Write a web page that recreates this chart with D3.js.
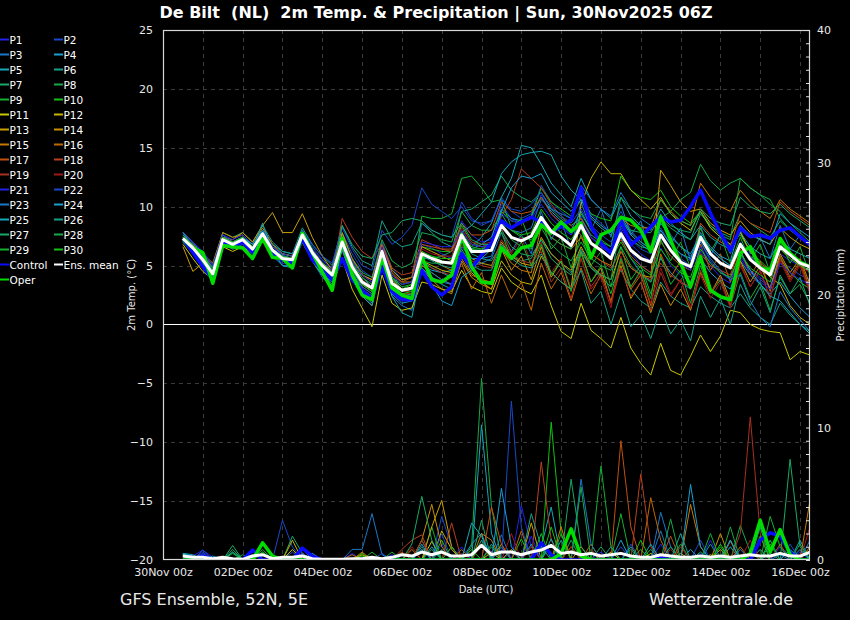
<!DOCTYPE html>
<html><head><meta charset="utf-8">
<script src="https://cdn.jsdelivr.net/npm/d3@7"></script>
<style>body{margin:0;background:#000}svg{display:block}</style></head>
<body><svg id="c" width="850" height="620"></svg>
<script>
// ---------- DATA ----------
const firstHour = 12, stepHours = 6;           // hours after 30Nov 00z (first step 30Nov 12Z, 6-hourly)
const xTickHours = [0,48,96,144,192,240,288,336,384];
const xTickLabels = ["30Nov 00z","02Dec 00z","04Dec 00z","06Dec 00z","08Dec 00z","10Dec 00z","12Dec 00z","14Dec 00z","16Dec 00z"];
const tempTicks = [25,20,15,10,5,0,-5,-10,-15,-20];
const precipTicks = [0,10,20,30,40];
const members = ["P1","P2","P3","P4","P5","P6","P7","P8","P9","P10","P11","P12","P13","P14","P15","P16","P17","P18","P19","P20","P21","P22","P23","P24","P25","P26","P27","P28","P29","P30"];
const memberColors = ["#2222e8","#1a48c8","#1a78c8","#18a0d0","#14a8b8","#16a088","#18a868","#18a848","#14b030","#12c012",
  "#c8c800","#c8b400","#c8a000","#c89000","#c87800","#c06800","#c05010","#b84020","#a83020","#a01818",
  "#2222e8","#1a48c8","#1a78c8","#18a0d0","#14a8b8","#16a088","#18a868","#18a848","#14b030","#12c012"];

const tempMean = [7.3,6.5,5.5,4.3, 7.2,6.8,7.2,6.4, 7.7,6.3,5.6,5.5, 7.6,6.1,5.0,4.2, 7.0,4.9,3.6,3.1, 6.2,3.5,2.9,3.1, 6.0,5.6,5.3,5.2, 7.6,6.2,6.2,6.3, 8.4,7.4,7.1,7.5, 9.1,7.9,7.4,6.7, 8.4,6.9,6.3,5.6, 7.7,6.3,5.6,5.3, 7.6,6.3,5.3,4.9, 7.4,6.0,5.2,4.8, 6.8,5.5,4.8,4.2, 6.6,5.9,5.2,4.9];
const tempControl = [7.3,6.1,4.9,3.8, 7.0,6.7,7.0,6.1, 7.4,5.9,5.5,5.2, 7.3,5.5,4.6,3.8, 5.6,3.8,2.9,2.2, 4.9,2.8,2.1,2.1, 4.6,3.2,2.5,3.2, 6.0,4.8,5.9,6.9, 8.8,8.2,8.7,9.1, 8.7,7.9,8.3,8.9, 11.6,8.3,6.9,6.05, 8.85,6.75,7.45,8.3, 9.15,8.7,8.85,10.0, 11.4,9.45,7.75,6.3, 8.2,7.45,7.6,7.3, 8.0,8.2,7.45,6.75];
const tempOper = [7.3,6.5,6.1,3.5, 6.7,6.6,6.5,5.6, 7.3,5.7,5.6,4.8, 7.75,6.1,4.45,2.9, 7.3,4.2,2.5,2.1, 5.75,3.1,2.5,2.2, 5.75,3.8,3.6,4.2, 7.6,4.9,3.6,3.5, 6.5,5.6,6.5,6.7, 8.45,7.75,8.7,7.9, 8.6,5.65,7.6,8.0, 9.1,8.85,8.0,6.2, 9.15,7.15,5.2,3.2, 5.75,2.9,2.35,2.1, 6.05,6.6,4.8,4.6, 7.3,6.05,5.3,4.9];

const T_P1 = [7.6,6.8,5.2,4.0, 7.0,6.5,7.0,6.0, 7.4,6.0,5.2,5.0, 7.2,5.6,4.4,3.8, 6.2,4.2,3.0,2.4, 5.4,3.0,2.2,2.6, 6.8,6.5,6.0,5.6, 8.8,7.6,7.0,7.2, 10.2,9.0,8.6,9.0, 11.0,9.4,8.5,7.6, 9.2,7.4,6.8,6.0, 8.0,6.2,5.0,4.4, 6.5,5.0,4.2,3.6, 6.2,5.0,4.0,3.5, 5.8,4.6,4.0,3.2, 6.0,5.4,5.0,4.6];
const T_P2 = [7.8,7.0,5.8,4.6, 7.6,7.0,7.4,6.6, 8.0,6.6,5.9,5.6, 8.0,6.6,5.5,4.8, 7.8,6.0,4.6,4.0, 7.0,4.8,3.8,4.0, 8.6,8.0,7.6,7.4, 10.4,9.0,8.4,8.8, 10.8,9.6,9.0,9.4, 11.8,10.4,9.6,9.0, 11.0,9.4,8.6,7.8, 9.6,8.0,7.0,6.4, 8.2,6.8,5.6,5.0, 7.0,5.4,4.4,4.0, 6.0,4.6,3.8,3.2, 5.4,4.8,4.2,3.8];
const T_P3 = [7.0,6.2,5.0,3.8, 6.8,6.4,6.8,6.0, 7.2,5.8,5.0,5.0, 7.0,5.4,4.0,3.2, 6.4,4.4,3.0,2.2, 5.0,2.4,1.6,1.2, 4.6,4.0,3.6,3.4, 6.2,5.0,5.2,5.6, 7.8,6.2,7.6,6.0, 9.6,7.2,8.8,6.4, 10.4,8.0,9.8,7.4, 10.2,7.6,8.8,6.0, 9.4,6.8,8.2,5.4, 8.4,5.8,7.6,6.0, 8.0,6.0,7.4,5.6, 8.4,6.4,7.6,6.6];
const T_P4 = [7.4,6.2,5.3,4.1, 7.4,7.0,7.4,6.8, 8.0,6.8,6.2,6.0, 7.8,6.2,4.8,3.8, 6.6,4.4,2.8,2.2, 5.6,3.2,2.4,2.6, 5.0,4.6,4.4,4.6, 7.0,6.4,6.8,7.4, 9.8,9.0,8.8,9.2, 10.8,9.6,8.8,8.0, 9.6,8.0,7.0,6.2, 7.4,5.6,4.4,3.6, 5.6,4.4,3.6,3.0, 5.6,4.4,3.6,3.0, 5.4,4.2,3.4,2.6, 3.6,2.4,1.4,0.6];
const T_P5 = [7.8,7.0,6.0,4.8, 7.2,6.6,7.0,6.2, 7.8,6.6,6.0,5.8, 7.6,6.0,5.0,4.4, 7.2,5.2,4.0,3.2, 6.4,4.0,3.0,2.8, 5.4,4.8,4.4,4.0, 7.0,6.6,7.4,8.6, 10.8,12.4,15.2,15.0, 13.6,12.0,11.0,10.0, 12.4,10.6,9.8,9.0, 10.8,9.2,8.4,8.0, 9.8,8.6,7.8,7.2, 8.4,7.4,6.8,6.4, 7.8,6.6,6.0,5.6, 7.2,6.4,6.0,5.6];
const T_P6 = [7.0,6.0,5.0,4.0, 7.8,7.4,7.8,7.0, 8.4,7.0,6.2,6.0, 8.2,6.8,5.8,5.0, 8.4,6.6,5.4,5.0, 8.8,7.2,6.6,6.8, 8.6,7.8,7.0,6.6, 7.4,6.0,5.6,5.4, 6.8,5.8,5.4,5.6, 7.2,6.0,5.2,4.4, 6.4,4.8,4.0,3.2, 4.6,3.0,2.0,1.4, 3.6,2.4,1.8,1.4, 3.2,2.4,1.8,1.4, 2.6,1.4,0.6,0.0, 1.8,0.8,0.0,-0.6];
const T_P7 = [7.2,6.6,5.6,4.4, 7.0,6.6,7.0,6.2, 7.4,6.0,5.4,5.2, 7.4,5.8,4.6,3.8, 6.6,4.4,3.0,2.4, 5.8,3.2,2.4,2.4, 5.6,5.6,5.8,6.2, 9.6,9.8,10.4,11.0, 12.6,11.4,10.8,10.4, 11.2,9.8,9.0,8.4, 9.0,7.6,7.0,6.6, 8.4,7.2,6.6,6.4, 9.0,8.2,7.6,7.2, 9.4,8.4,7.8,7.4, 9.4,8.6,8.0,7.4, 8.8,8.0,7.4,6.8];
const T_P8 = [7.4,6.6,5.6,4.6, 7.0,6.4,6.6,5.8, 7.4,6.2,5.6,5.4, 7.2,6.0,5.2,4.6, 7.6,5.6,4.4,4.0, 7.2,5.4,4.8,5.2, 7.8,7.6,7.2,7.0, 9.6,8.4,8.0,8.0, 9.4,8.0,7.4,7.2, 8.2,6.8,6.0,5.4, 7.0,5.6,5.0,4.6, 6.6,5.0,4.2,3.6, 9.0,9.6,10.6,11.2, 13.6,12.2,11.4,12.0, 12.4,11.6,11.0,10.2, 9.6,8.6,7.8,7.0];
const T_P9 = [7.0,6.4,5.4,4.2, 7.4,7.0,7.2,6.4, 7.8,6.4,5.6,5.4, 7.6,6.2,5.2,4.4, 7.0,4.8,3.4,2.8, 6.4,4.0,3.4,3.6, 9.2,9.0,9.0,9.4, 12.4,12.6,11.6,10.4, 10.6,8.2,9.0,6.8, 9.0,6.4,7.4,4.8, 7.6,5.0,6.2,3.2, 6.6,3.8,5.0,2.6, 5.8,3.4,4.6,1.8, 5.0,2.6,3.8,1.6, 4.4,2.2,3.6,1.2, 4.0,2.6,3.4,1.8];
const T_P10 = [7.2,6.6,5.8,4.6, 7.2,6.8,7.2,6.4, 7.6,6.4,5.8,5.6, 7.8,6.2,5.0,4.2, 7.0,5.0,3.6,3.0, 6.0,3.8,3.0,3.4, 6.6,6.4,6.2,6.2, 8.4,7.0,6.6,6.8, 9.6,8.8,8.6,9.2, 11.6,10.4,9.8,9.2, 10.6,9.4,9.0,8.8, 12.6,11.4,10.8,10.6, 11.4,10.0,9.2,8.6, 9.6,8.2,7.4,6.8, 7.6,6.2,5.4,4.6, 5.6,4.4,3.6,3.0];
const T_P11 = [6.8,5.6,4.5,3.8, 6.6,6.2,6.6,6.0, 7.2,6.0,5.4,5.2, 7.0,5.4,4.2,3.2, 5.6,3.0,1.4,-0.2, 4.2,1.8,1.2,1.4, 3.6,3.4,3.0,2.8, 4.6,3.2,2.8,2.6, 4.8,3.6,3.0,2.6, 4.2,1.6,-0.6,-1.2, 1.8,-0.5,-1.2,-2.0, 0.6,-2.0,-3.3,-4.3, -1.6,-3.9,-4.3,-2.7, -0.9,-2.3,-1.0,1.2, 1.0,0.0,-0.4,-0.6, -0.7,-3.0,-2.3,-2.6];
const T_P12 = [7.0,6.2,5.4,4.4, 7.0,6.6,7.0,6.2, 7.6,6.2,5.4,5.0, 7.4,5.8,4.6,3.6, 6.4,4.0,2.4,1.6, 5.4,2.8,2.0,2.2, 5.4,5.0,4.6,4.4, 6.0,4.4,3.6,3.0, 5.4,4.2,3.6,3.4, 5.8,4.4,3.6,3.0, 10.2,12.4,13.8,12.8, 12.8,11.4,10.6,9.8, 10.8,9.4,8.6,8.0, 9.6,8.2,7.4,6.8, 7.8,6.2,5.0,4.0, 3.4,1.6,0.6,0.0];
const T_P13 = [6.6,4.5,5.2,4.4, 7.4,7.2,7.8,7.0, 8.4,9.5,7.8,7.8, 9.4,7.4,5.8,4.6, 7.8,5.6,4.2,3.8, 6.8,4.6,3.8,4.0, 6.6,6.2,5.8,5.4, 7.2,5.6,5.2,5.0, 7.0,5.8,5.2,5.0, 7.4,6.0,5.2,4.6, 6.6,5.0,4.2,3.8, 6.2,4.8,4.2,4.0, 13.1,11.8,10.4,9.6, 9.8,8.6,8.0,7.6, 8.8,7.8,7.2,6.8, 8.2,7.4,6.8,6.4];
const T_P14 = [7.4,6.8,6.0,5.2, 7.8,7.4,7.6,6.8, 8.2,6.8,6.0,5.8, 7.8,6.4,5.2,4.6, 7.4,5.4,4.2,3.8, 6.4,3.8,3.0,3.0, 4.6,3.8,3.0,2.6, 5.4,4.0,3.4,3.0, 6.4,4.6,5.8,3.8, 6.6,4.0,5.4,3.0, 6.2,3.6,4.8,1.8, 5.0,2.2,3.6,1.0, 3.4,1.6,3.0,1.2, 4.4,2.6,4.2,2.0, 5.4,3.6,5.0,3.0, 6.0,4.4,5.6,3.4];
const T_P15 = [7.6,6.6,5.4,4.2, 7.0,6.6,7.0,6.2, 7.4,6.2,5.6,5.4, 7.4,6.2,5.2,4.4, 7.4,5.4,4.2,3.6, 6.6,4.4,3.6,3.6, 6.2,5.6,5.0,4.6, 5.6,4.2,3.8,3.6, 6.4,5.2,4.6,4.4, 8.4,7.4,6.8,6.4, 7.4,6.0,5.4,5.0, 9.0,8.4,8.2,8.2, 10.6,9.6,8.8,8.4, 12.0,10.8,10.0,9.6, 11.4,10.4,9.6,9.0, 10.6,9.8,9.2,8.6];
const T_P16 = [7.2,6.4,5.6,4.4, 7.2,6.8,7.2,6.6, 7.8,6.6,6.0,5.8, 7.6,6.0,4.8,3.8, 6.6,4.6,3.4,2.8, 5.8,3.4,2.6,2.6, 5.0,4.4,3.8,3.4, 5.2,3.0,4.4,1.8, 4.2,2.2,3.6,1.2, 5.2,3.0,4.4,2.0, 4.8,2.6,4.2,2.0, 5.4,3.0,4.2,1.6, 6.0,4.0,5.4,3.0, 6.8,4.6,6.0,3.6, 6.4,4.2,5.4,2.8, 5.8,4.0,5.4,3.0];
const T_P17 = [7.0,6.4,5.4,4.4, 7.4,7.0,7.4,6.6, 7.6,6.2,5.4,5.2, 7.4,5.8,4.6,3.8, 7.0,4.8,3.4,3.0, 6.4,4.2,3.6,4.0, 6.8,6.6,6.4,6.4, 8.6,7.6,7.6,8.0, 10.4,9.6,9.4,9.6, 10.8,9.4,8.6,7.8, 9.0,7.4,6.6,6.0, 7.2,5.8,5.0,4.4, 7.0,5.8,5.0,4.6, 8.6,7.6,7.0,6.6, 9.4,8.6,8.2,7.8, 10.4,9.6,9.0,8.4];
const T_P18 = [7.4,6.6,5.6,4.2, 7.0,6.6,7.0,6.2, 7.8,6.4,5.8,5.6, 7.6,6.0,4.8,4.0, 9.0,7.4,6.2,5.6, 6.8,4.8,4.2,4.4, 7.2,6.8,6.4,6.2, 8.0,6.8,6.6,6.8, 9.2,10.6,13.2,12.4, 11.6,10.2,9.2,8.4, 7.6,6.0,5.4,4.8, 6.2,4.8,4.2,3.8, 5.2,4.2,3.6,3.2, 6.0,5.0,4.6,4.2, 6.6,5.8,5.2,4.6, 6.4,5.6,5.0,4.4];
const T_P19 = [7.8,7.0,6.0,4.8, 7.6,7.0,7.2,6.4, 7.6,6.2,5.6,5.4, 7.4,6.0,5.0,4.4, 7.2,5.0,3.8,3.2, 6.2,3.6,2.8,2.8, 5.2,4.8,4.4,4.2, 6.8,5.4,5.0,4.8, 7.2,6.0,5.4,5.2, 6.2,3.6,4.8,2.2, 5.6,3.2,4.4,1.8, 4.8,2.4,3.6,1.2, 4.4,2.4,3.8,1.4, 4.6,2.6,4.0,1.6, 5.2,3.2,4.6,2.2, 5.6,3.8,5.2,2.8];
const T_P20 = [7.2,6.4,5.2,4.0, 7.2,6.8,7.2,6.4, 7.6,6.2,5.4,5.2, 7.6,6.0,4.8,3.8, 6.8,4.6,3.2,2.6, 6.0,3.6,2.8,3.0, 6.4,6.0,5.8,5.8, 8.2,7.0,6.8,7.0, 8.2,6.0,7.4,5.2, 7.0,4.4,5.6,3.0, 5.6,3.0,4.0,1.4, 5.8,3.2,4.4,1.8, 4.8,2.6,3.8,1.4, 4.2,2.2,3.6,1.4, 5.0,3.2,4.6,2.2, 5.4,3.6,5.0,2.6];
const T_P21 = [7.6,7.0,6.2,5.0, 7.6,7.2,7.6,6.8, 8.0,6.6,5.8,5.6, 7.8,6.4,5.4,4.6, 7.4,5.4,4.2,3.6, 6.6,4.2,3.4,3.6, 7.0,6.8,6.6,6.6, 8.0,6.8,6.6,6.8, 9.4,8.8,8.6,9.0, 10.2,9.0,8.2,7.6, 8.8,7.4,6.6,6.0, 8.2,6.8,6.0,5.4, 7.6,6.2,5.2,4.6, 6.6,5.2,4.4,3.8, 5.6,4.4,3.6,3.0, 5.2,4.4,3.8,3.4];
const T_P22 = [7.8,7.0,6.0,5.0, 7.6,7.0,7.4,6.6, 7.8,6.6,6.0,5.8, 8.0,6.8,5.8,5.2, 8.2,6.4,5.0,4.6, 8.0,6.8,7.4,8.4, 11.6,10.2,9.6,9.0, 10.0,8.8,8.6,8.8, 10.6,9.8,9.6,10.2, 11.2,10.0,9.2,8.6, 9.8,8.4,7.6,7.0, 8.6,7.2,6.4,6.0, 8.0,6.8,6.0,5.4, 7.6,6.4,5.6,5.0, 7.0,5.8,5.0,4.4, 6.6,5.8,5.2,4.8];
const T_P23 = [7.0,6.2,5.2,4.0, 7.2,6.8,7.2,6.4, 7.4,6.0,5.4,5.2, 7.2,5.6,4.4,3.6, 6.8,4.6,3.2,2.6, 5.8,3.2,2.4,2.4, 5.2,4.4,3.8,3.4, 6.6,5.6,5.6,5.8, 8.6,8.0,7.8,8.2, 10.6,9.8,9.4,9.0, 11.8,10.6,9.8,9.2, 11.2,9.8,9.0,8.4, 9.2,7.6,6.6,5.8, 7.0,5.6,4.6,3.8, 4.2,2.0,0.6,-0.2, 2.8,1.4,0.4,-0.6];
const T_P24 = [7.8,6.6,5.4,4.2, 7.0,6.8,7.4,6.8, 8.0,6.2,5.6,5.6, 7.4,5.6,4.2,3.6, 6.4,3.8,2.4,1.6, 5.2,2.6,1.8,2.0, 4.8,3.4,2.0,1.6, 4.0,4.6,5.6,6.4, 9.6,11.6,12.6,12.4, 12.8,11.2,10.4,9.6, 10.6,9.2,8.4,7.8, 9.0,7.6,6.8,6.2, 8.0,6.8,6.0,5.6, 7.8,6.6,5.8,5.4, 8.4,7.6,7.2,6.8, 9.4,8.6,8.0,7.4];
const T_P25 = [7.4,6.4,5.0,3.6, 7.0,6.6,7.0,6.4, 8.6,6.2,5.0,4.8, 7.2,5.4,4.2,3.4, 6.6,4.2,2.6,1.8, 5.6,2.4,1.0,0.6, 4.8,4.0,3.4,3.0, 7.8,8.4,9.4,10.4, 12.8,13.8,14.4,14.6, 14.7,14.4,12.6,11.4, 10.6,9.0,8.2,7.6, 9.2,7.8,7.0,6.4, 8.6,7.4,6.6,6.0, 7.6,6.4,5.6,5.0, 6.2,4.6,3.4,2.4, 2.0,1.0,0.0,-0.8];
const T_P26 = [7.2,6.6,5.8,4.8, 7.4,7.0,7.4,6.6, 7.8,6.4,5.6,5.4, 7.8,6.2,5.0,4.2, 7.0,4.8,3.4,2.8, 6.0,3.6,2.8,3.0, 5.8,5.4,5.0,4.8, 6.4,5.0,4.6,4.6, 6.8,5.6,5.0,4.8, 6.0,4.4,3.6,3.0, 4.6,1.8,2.8,0.0, 2.6,-0.2,0.8,-1.2, 1.4,-0.8,0.4,-1.4, 2.4,0.6,2.2,0.0, 3.4,1.6,3.2,1.0, 4.2,2.6,4.0,1.6];
const T_P27 = [7.6,6.8,5.8,4.6, 7.2,6.8,7.2,6.4, 7.6,6.4,5.8,5.6, 7.6,6.0,4.8,4.0, 8.4,6.8,5.8,5.6, 7.6,7.8,8.8,9.0, 8.8,8.0,7.6,7.4, 8.6,7.2,6.8,6.8, 8.0,6.6,6.0,5.8, 7.2,5.6,4.8,4.2, 6.2,4.8,4.2,3.8, 8.6,8.0,7.8,7.8, 9.2,8.4,8.0,7.8, 9.8,9.0,8.6,8.4, 10.8,10.0,9.6,9.4, 10.2,9.4,8.8,8.2];
const T_P28 = [7.0,6.2,5.2,4.2, 7.2,6.8,7.0,6.2, 7.6,6.2,5.6,5.4, 7.6,6.2,5.2,4.4, 6.4,4.2,2.8,2.2, 5.4,2.8,2.0,2.2, 5.4,5.2,5.2,5.4, 7.4,6.4,6.4,6.8, 8.4,7.2,6.6,6.4, 8.6,7.4,6.8,6.4, 9.4,8.0,7.2,6.6, 10.8,9.8,9.2,9.0, 10.6,9.4,8.8,8.4, 9.6,8.4,7.6,7.2, 12.4,11.6,11.0,10.6, 9.0,8.0,7.4,6.8];
const T_P29 = [7.4,6.6,5.6,4.4, 7.2,6.8,7.2,6.4, 7.6,6.4,5.8,5.6, 7.6,6.2,5.2,4.4, 7.2,5.2,4.0,3.4, 6.2,4.0,3.2,3.4, 6.2,5.8,5.4,5.2, 7.8,6.6,6.4,6.6, 7.8,5.6,7.0,5.0, 6.8,4.2,5.4,2.8, 6.0,3.6,5.0,2.6, 5.6,3.2,4.6,2.2, 7.2,5.4,7.0,4.8, 8.2,6.2,7.6,5.2, 7.4,5.4,6.8,4.4, 7.0,5.2,6.6,4.2];
const T_P30 = [7.2,6.4,5.4,4.2, 7.4,7.0,7.4,6.6, 7.8,6.4,5.6,5.4, 7.4,5.8,4.8,4.0, 6.8,4.6,3.4,2.8, 5.8,3.4,2.6,2.8, 6.0,5.8,5.6,5.6, 7.6,6.4,6.2,6.4, 8.8,8.0,7.6,7.8, 9.8,8.6,7.8,7.2, 8.4,7.0,6.2,5.6, 7.0,5.6,4.8,4.2, 6.4,5.2,4.4,4.0, 6.4,5.2,4.4,4.0, 6.0,4.8,4.2,3.6, 6.4,5.6,5.0,4.6];

const precipMean = [.3,.2,.2,.1,.2,.1,.05,.3,.4,.1,.2,.2,.3,.1,.05,.05, .05,.1,.1,.2,.1,.2,.4,.3,.6,.4,.6,.3,.3,.4,1.1,.4, .6,.6,.4,.6,.75,1.1,.5,.6,.4,.5,.3,.4,.5,.3,.2,.2, .4,.3,.2,.2,.3,.2,.3,.2,.3,.4,.3,.3,.5,.3,.3,.6];
const precipControl = [0,0,.3,0,0,0,0,.75,0,0,0,0,.9,.3,0,0, 0,0,0,0,0,0,0,0,0,0,0,0,0,0,0,0, 0,0,0,0,1.3,.4,0,0,0,0,0,0,0,0,0,0, .2,0,0,0,0,0,0,0,0,0,1.5,2.05,1.8,.6,0,0];
const precipOper = [0,0,0,0,0,0,0,0,1.3,.3,0,0,0,0,0,0, 0,0,0,0,0,0,0,0,0,0,0,0,0,0,0,0, 0,0,0,0,0,0,.5,2.35,.3,0,0,0,0,0,0,0, 0,0,0,0,0,0,0,0,0,.5,3,.6,2.3,.4,0,0];

const R_P1 = [.4,.3,.75,.2,0,0,0,0,0,0,0,0,0,0,0,0, 0,.5,0,0,0,0,0,0,0,0,1.2,0,0,0,1.5,.6, 0,0,4.1,1,0,0,0,0,0,0,0,0,0,0,0,0, 1.2,0,0,0,.5,0,0,0,0,0,0,0,0,0,.6,0];
const R_P2 = [.3,0,.6,0,0,0,0,0,0,0,3,1,0,0,0,0, 0,0,0,0,0,0,0,0,0,0,3.3,1,0,0,0,0, 0,.6,0,0,0,0,0,0,0,0,0,0,1,0,0,0, 0,0,0,0,0,0,0,0,0,0,.8,0,0,0,0,0];
const R_P3 = [.5,.3,0,0,0,0,0,0,0,0,0,0,0,0,0,0, 0,.8,.8,3.5,.4,0,0,0,0,0,0,0,0,0,0,0, 1.9,0,0,0,0,0,0,0,0,.5,0,0,0,0,0,0, 3.6,1,0,0,0,0,0,0,0,0,0,0,.4,0,0,0];
const R_P4 = [.4,0,0,0,0,0,0,0,0,0,0,0,.5,0,0,0, 0,0,0,0,0,0,0,0,0,0,0,0,0,1.2,2,0, 0,0,0,1.2,0,0,0,0,0,0,0,0,0,1,0,0, 0,0,0,.8,0,0,0,1.5,0,0,0,0,0,.8,0,0];
const R_P5 = [.5,.4,0,0,0,0,0,0,0,0,0,0,.9,0,0,0, 0,0,0,0,0,0,0,0,0,0,0,0,0,0,10.2,2, 0,0,0,0,1,4,0,0,0,0,0,.6,0,0,0,0, 0,0,0,0,0,0,0,1,0,0,0,0,0,0,1.5,0];
const R_P6 = [.3,0,0,0,0,.6,0,0,0,0,0,0,0,0,0,0, 0,0,0,0,0,0,0,0,1,0,0,0,0,0,0,1.2, 0,0,0,0,0,0,1.5,0,0,0,0,0,0,.8,0,0, 0,0,0,0,0,1.2,0,0,0,0,0,.5,0,0,0,0];
const R_P7 = [.3,0,0,0,0,1.1,0,0,0,0,0,1.8,.5,0,0,0, 0,0,0,0,0,0,0,0,.8,0,0,0,0,0,3,0, 0,0,0,0,0,1.2,0,0,0,0,1,0,0,0,0,0, 0,0,0,0,.6,0,0,0,0,0,0,0,0,7.6,1,0];
const R_P8 = [.4,0,0,0,0,0,0,0,.6,0,0,0,0,0,0,0, 0,0,.4,0,0,0,0,0,1.5,0,0,0,0,1,13.7,4, 0,0,0,0,0,0,0,1.5,0,0,0,0,0,0,0,.8, 0,0,0,0,0,0,0,0,2.6,.6,0,0,0,0,0,0];
const R_P9 = [.3,0,0,0,0,0,0,0,.8,0,0,0,0,0,0,0, 0,0,0,.6,0,0,0,0,0,2.5,0,0,0,0,0,1, 0,0,0,0,0,0,2,0,0,0,7.1,1,0,0,0,0, 0,0,1.2,0,0,0,0,0,0,0,.8,0,0,0,0,0];
const R_P10 = [.2,0,0,0,0,0,0,0,.6,0,0,0,0,0,0,0, 0,0,.5,0,0,0,0,0,0,0,1.5,0,0,0,0,0, 0,0,1.6,0,0,10.4,2,0,0,0,0,0,0,0,.8,0, 0,0,0,0,0,0,1,0,0,0,0,1.2,0,0,0,0];
const R_P11 = [.3,0,0,0,0,0,0,0,0,0,0,.8,0,0,0,0, 0,0,0,0,0,0,0,0,0,1.4,0,0,0,0,0,.6, 0,0,0,0,0,0,0,1,0,0,0,0,0,0,0,.5, 0,0,0,0,0,.4,0,0,0,0,0,0,0,0,0,0];
const R_P12 = [.3,0,0,0,0,0,0,0,0,0,0,1.5,0,0,0,0, 0,0,0,0,0,0,0,0,0,0,2.2,.8,0,0,0,0, 0,.8,0,0,0,0,0,0,0,.6,0,0,0,0,0,0, 0,0,.5,0,0,0,0,0,0,0,0,0,0,0,0,0];
const R_P13 = [.4,0,0,0,0,0,0,0,0,0,0,0,.5,0,0,0, 0,0,0,0,0,0,0,0,0,2.5,4.5,1,0,0,0,0, 0,0,0,2.8,0,0,0,0,0,0,0,.6,0,0,0,0, 0,0,0,0,0,0,.8,0,0,0,0,0,0,0,0,0];
const R_P14 = [.3,0,0,0,0,0,0,0,0,0,0,0,0,0,0,0, 0,0,.4,0,0,0,0,0,1.5,4.2,1,0,0,0,0,0, 1.2,0,0,0,0,0,0,0,1,0,0,0,0,0,0,0, 0,0,0,0,0,0,2,0,0,0,0,0,0,0,0,1];
const R_P15 = [.4,0,0,0,0,0,0,0,0,0,0,0,0,0,0,0, 0,0,.6,0,0,0,0,.8,0,0,0,0,0,0,2,1.5, 0,0,0,0,0,0,2.5,0,0,0,0,0,0,0,0,0, 0,0,0,4.2,1,0,0,0,0,0,0,0,0,0,0,4.5];
const R_P16 = [.3,0,0,0,0,0,0,0,0,0,0,0,0,0,0,0, 0,.4,0,0,0,0,0,0,0,0,0,0,.8,0,0,0, 0,0,2.2,0,0,0,0,0,0,1.2,0,0,0,0,0,4.7, 1.5,0,0,0,0,0,0,0,1,0,0,0,0,0,0,0];
const R_P17 = [.4,0,0,0,0,0,0,0,0,0,0,0,0,0,0,0, 0,0,0,0,0,0,.6,0,0,0,0,1,0,0,0,4, 1.2,0,0,0,0,0,0,0,0,0,0,0,9,2.5,0,0, 0,1.8,0,0,0,0,0,0,0,0,0,0,1.2,0,0,0];
const R_P18 = [.3,0,0,0,0,0,0,0,0,0,0,0,0,0,0,0, 0,0,0,0,0,0,.8,1.5,1.9,0,0,2.8,0,0,0,0, 0,0,0,0,7.4,1.5,0,0,0,0,0,0,0,0,6.5,1, 0,0,0,0,0,0,0,1.4,0,0,0,0,0,0,0,0];
const R_P19 = [.3,0,0,0,0,0,0,0,0,0,0,0,0,0,0,0, 0,0,0,0,0,0,0,0,1.5,0,0,0,0,0,1.2,0, 0,0,0,1,0,0,0,0,0,.8,0,0,0,0,0,0, 0,0,1,0,0,0,0,0,2,10.8,2,0,0,0,0,0];
const R_P20 = [.2,0,0,0,0,0,0,0,0,0,0,0,0,0,0,0, 0,0,0,0,0,0,0,1,0,0,0,0,.5,0,0,0, 0,2,0,0,0,0,0,1,0,0,0,0,0,0,0,0, 0,.8,0,0,0,0,0,0,0,1.5,0,0,0,0,0,2.5];
const R_P21 = [.3,0,.5,0,0,0,0,0,0,0,0,0,.5,0,0,0, 0,0,0,0,0,.4,0,0,0,0,0,0,1,0,0,0, 0,0,0,1.8,0,0,0,0,0,0,.6,0,0,0,0,0, 0,0,0,0,0,1.5,0,0,0,0,0,0,1,0,0,0];
const R_P22 = [.4,0,.75,0,0,0,0,0,0,0,0,.6,0,0,0,0, 0,0,0,0,.5,0,0,0,0,0,2,0,0,0,0,0, 0,12,2.5,0,0,0,0,0,0,0,0,0,0,1.2,0,0, 0,0,0,0,1.5,0,0,0,0,0,0,0,0,1.2,0,0];
const R_P23 = [.4,0,0,0,0,0,0,0,0,0,0,0,.4,0,0,0, 0,0,0,0,0,0,0,0,.8,0,0,0,0,0,0,0, 1,0,0,0,0,0,0,0,6.1,1.2,0,0,0,0,0,0, 2.2,0,0,0,0,0,0,0,.8,0,0,0,0,0,0,1.5];
const R_P24 = [.5,0,0,.3,0,0,0,0,0,0,0,0,0,.5,0,0, 0,0,0,0,0,0,0,0,1.2,0,0,0,0,0,0,0, 5.4,1,0,0,0,0,0,0,0,0,0,0,1.5,0,0,0, 0,0,0,5.7,1,0,0,0,0,0,0,0,0,0,.8,0];
const R_P25 = [.5,0,.4,0,0,0,0,0,0,0,0,0,0,0,0,0, 0,0,0,0,0,0,0,0,0,1,0,0,0,2.8,1.8,0, 0,0,0,0,0,1.6,0,0,0,0,0,0,0,0,0,1.2, 0,0,0,0,0,0,0,1.5,0,0,0,0,0,.8,0,0];
const R_P26 = [.3,0,0,0,0,.6,0,0,0,0,0,0,0,0,0,0, 0,0,0,0,0,0,0,0,0,0,.8,0,0,0,0,0, 0,0,0,3.5,1,0,0,0,0,0,0,1,0,0,0,0, 0,0,2,0,0,0,0,0,0,0,2.5,0,0,0,0,0];
const R_P27 = [.3,0,0,0,0,.8,0,0,0,0,0,0,0,0,0,0, 0,0,0,0,0,0,0,1.2,4.8,1.5,0,0,0,0,0,0, 0,0,0,0,0,0,0,6.1,1,0,0,0,0,0,0,0, 0,1,0,0,0,0,0,0,0,0,0,1.5,0,0,0,0];
const R_P28 = [.3,0,0,0,0,0,.4,0,0,0,0,0,0,0,0,0, 0,0,0,0,0,0,0,0,0,.8,0,0,0,0,1.5,0, 0,0,0,0,0,0,0,0,5.5,0,0,0,0,0,0,0, 0,3.1,0,0,0,0,0,2.5,0,0,0,0,0,0,1.2,0];
const R_P29 = [.4,0,0,0,0,.5,0,0,0,0,0,0,0,0,0,0, 0,0,0,0,0,.6,0,0,0,0,0,1,0,0,0,0, 0,0,0,0,2,0,0,0,0,0,0,0,3.5,0,0,0, 0,0,0,0,0,2,0,0,0,0,0,3.3,1,0,0,0];
const R_P30 = [.3,0,0,0,0,0,0,.4,0,0,0,0,0,0,0,0, 0,0,.3,0,0,0,0,0,0,0,0,0,0,.8,0,0, 0,0,0,0,0,2.5,0,0,0,0,0,0,0,0,1.5,0, 0,0,0,0,0,0,1.2,0,0,0,1.8,0,0,0,0,0];

const tempMembers = [T_P1,T_P2,T_P3,T_P4,T_P5,T_P6,T_P7,T_P8,T_P9,T_P10,T_P11,T_P12,T_P13,T_P14,T_P15,T_P16,T_P17,T_P18,T_P19,T_P20,T_P21,T_P22,T_P23,T_P24,T_P25,T_P26,T_P27,T_P28,T_P29,T_P30];
const precipMembers = [R_P1,R_P2,R_P3,R_P4,R_P5,R_P6,R_P7,R_P8,R_P9,R_P10,R_P11,R_P12,R_P13,R_P14,R_P15,R_P16,R_P17,R_P18,R_P19,R_P20,R_P21,R_P22,R_P23,R_P24,R_P25,R_P26,R_P27,R_P28,R_P29,R_P30];

// ---------- CHART ----------
const FONT = "'DejaVu Sans', Verdana, sans-serif";
const svg = d3.select("#c").style("font-family", FONT);
svg.append("rect").attr("width",850).attr("height",620).attr("fill","#000");
const L = 163, R = 810, T = 30, B = 560;
const x = d3.scaleLinear().domain([0, 390]).range([L, R]);
const yT = d3.scaleLinear().domain([-20, 25]).range([B, T]);
const yP = d3.scaleLinear().domain([0, 40]).range([B, T]);
const hourAt = i => firstHour + stepHours * i;

svg.append("clipPath").attr("id","clip").append("rect").attr("x",L).attr("y",T).attr("width",R-L).attr("height",B-T);

// grid
const grid = svg.append("g").attr("stroke","#3a3a3a").attr("stroke-width",1).attr("stroke-dasharray","4,4");
grid.selectAll("line.v").data(d3.range(24, 385, 24)).join("line")
  .attr("x1", d => Math.round(x(d)) + 0.5).attr("x2", d => Math.round(x(d)) + 0.5).attr("y1", T).attr("y2", B);
grid.selectAll("line.h").data(tempTicks.filter(t => t !== 0 && t !== 25 && t !== -20)).join("line")
  .attr("y1", d => Math.round(yT(d)) + 0.5).attr("y2", d => Math.round(yT(d)) + 0.5).attr("x1", L).attr("x2", R);

// zero line
svg.append("line").attr("x1",L).attr("x2",R).attr("y1",Math.round(yT(0))+0.5).attr("y2",Math.round(yT(0))+0.5)
  .attr("stroke","#ffffff").attr("stroke-width",1.2);

const plot = svg.append("g").attr("clip-path","url(#clip)");
const lineT = d3.line().x((d,i) => x(hourAt(i))).y(d => yT(d));
const lineP = d3.line().x((d,i) => x(hourAt(i))).y(d => yP(d));

tempMembers.forEach((s, k) => {
  plot.append("path").attr("d", lineT(s)).attr("fill","none").attr("stroke", memberColors[k]).attr("stroke-width",1);
});
precipMembers.forEach((s, k) => {
  plot.append("path").attr("d", lineP(s)).attr("fill","none").attr("stroke", memberColors[k]).attr("stroke-width",1);
});
const thick = [[tempControl, precipControl, "#0a0aff", 3.5],[tempOper, precipOper, "#00dd00", 3.5],[tempMean, precipMean, "#ffffff", 3]];
thick.forEach(([t, p, c, w]) => {
  plot.append("path").attr("d", lineT(t)).attr("fill","none").attr("stroke", c).attr("stroke-width", w).attr("stroke-linejoin","round");
  plot.append("path").attr("d", lineP(p)).attr("fill","none").attr("stroke", c).attr("stroke-width", w).attr("stroke-linejoin","round");
});

// frame
svg.append("rect").attr("x",L+0.5).attr("y",T+0.5).attr("width",R-L-1).attr("height",B-T-1)
  .attr("fill","none").attr("stroke","#d8d8d8").attr("stroke-width",1.2);

// axes
const axL = svg.append("g").attr("transform",`translate(${L},0)`)
  .call(d3.axisLeft(yT).tickValues(tempTicks).tickSize(0).tickPadding(10));
const axB = svg.append("g").attr("transform",`translate(0,${B})`)
  .call(d3.axisBottom(x).tickValues(xTickHours).tickFormat((d,i) => xTickLabels[i]).tickSize(0).tickPadding(8));
const axRm = svg.append("g").attr("transform",`translate(${R},0)`)
  .call(d3.axisRight(yP).tickValues(d3.range(0, 41, 1)).tickSize(-4).tickFormat(""));
const axR = svg.append("g").attr("transform",`translate(${R},0)`)
  .call(d3.axisRight(yP).tickValues(precipTicks).tickSize(0).tickPadding(7));
[axL, axB, axRm, axR].forEach(a => {
  a.select(".domain").remove();
  a.selectAll("text").attr("fill","#e8e8e8").style("font-size","11px").style("font-family", FONT);
  a.selectAll("line").attr("stroke","#e0e0e0");
});

// titles
svg.append("text").attr("x",436).attr("y",18).attr("text-anchor","middle").attr("fill","#fff")
  .attr("xml:space","preserve").style("white-space","pre")
  .style("font-size","15px").style("font-weight","bold")
  .attr("textLength",553).attr("lengthAdjust","spacingAndGlyphs")
  .text("De Bilt  (NL)  2m Temp. & Precipitation | Sun, 30Nov2025 06Z");
svg.append("text").attr("transform","translate(135,295) rotate(-90)").attr("text-anchor","middle")
  .attr("fill","#e8e8e8").style("font-size","10px").text("2m Temp. (°C)");
svg.append("text").attr("transform","translate(844,295) rotate(-90)").attr("text-anchor","middle")
  .attr("fill","#e8e8e8").style("font-size","10px").text("Precipitation (mm)");
svg.append("text").attr("x",486).attr("y",593).attr("text-anchor","middle")
  .attr("fill","#e8e8e8").style("font-size","10px").text("Date (UTC)");
svg.append("text").attr("x",120).attr("y",605).attr("fill","#e8e8e8").style("font-size","16px").text("GFS Ensemble, 52N, 5E");
svg.append("text").attr("x",793).attr("y",605).attr("text-anchor","end").attr("fill","#e8e8e8").style("font-size","16px").text("Wetterzentrale.de");

// legend
const legendItems = members.map((m, k) => ({name: m, color: memberColors[k]}))
  .concat([{name:"Control", color:"#0a0aff"},{name:"Ens. mean", color:"#ffffff"},{name:"Oper", color:"#00dd00"}]);
const lg = svg.append("g");
legendItems.forEach((d, k) => {
  const col = k % 2, row = Math.floor(k / 2);
  const lx = col === 0 ? 0 : 54, ty = 39.5 + row * 15;
  lg.append("line").attr("x1", lx).attr("x2", lx + 9).attr("y1", ty).attr("y2", ty).attr("stroke", d.color).attr("stroke-width", 2);
  lg.append("text").attr("x", lx + 9.5).attr("y", ty + 4).attr("fill","#ffffff").style("font-size","10.5px").text(d.name);
});
</script>
</body></html>
